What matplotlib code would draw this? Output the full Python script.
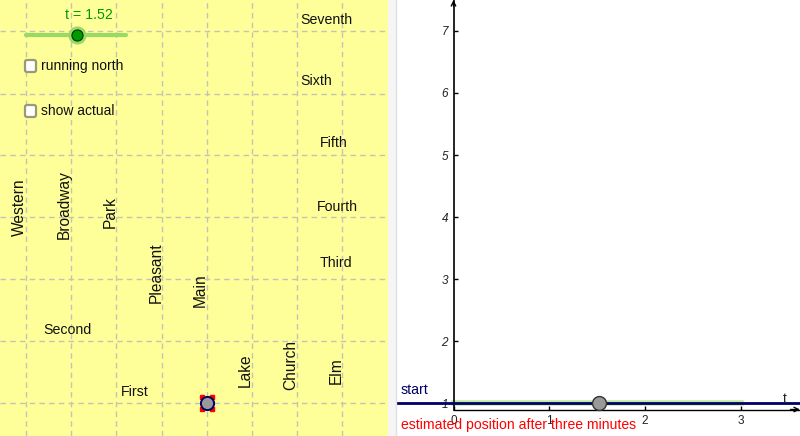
import matplotlib
matplotlib.use('Agg')
import matplotlib.pyplot as plt
from matplotlib.patches import Rectangle, FancyBboxPatch

plt.rcParams['font.family'] = ['Liberation Sans', 'DejaVu Sans']

# street grid of the map (map pane is measured in pixels)
grid_x = [26, 71, 116, 162, 207, 252, 297, 342]
grid_y = [31, 94, 155, 217, 279, 341, 403]

across_names = ['Seventh', 'Sixth', 'Fifth', 'Fourth', 'Third', 'Second', 'First']
across_x = [326, 316, 334, 337, 336, 67, 135]
across_y = [20, 81, 143, 207, 263, 330, 392]

up_names = ['Western', 'Broadway', 'Park', 'Pleasant', 'Main', 'Lake', 'Church', 'Elm']
up_x = [19, 64, 110, 156, 200, 245, 291, 336]
up_y = [207, 205, 212, 273, 290, 370, 365, 371]

# graph pane
t_value = 1.52
position = 1
slider_t = [0, 3]
xticks = [0, 1, 2, 3]
yticks = [1, 2, 3, 4, 5, 6, 7]

W, H = 800, 436
fig = plt.figure(figsize=(W / 100, H / 100), dpi=100, facecolor='#f5f5f5')

#%% map pane
ax = fig.add_axes([0, 0, 388 / W, 1])
ax.set_xlim(0, 388)
ax.set_ylim(436, 0)
ax.axis('off')
ax.add_patch(Rectangle((0, 0), 388, 436, color='#ffff99', zorder=0))

for x in grid_x:
    ax.axvline(x, color='#c4c4b4', lw=1, dashes=(4, 3), zorder=1)
for y in grid_y:
    ax.axhline(y, color='#c4c4b4', lw=1, dashes=(4, 3), zorder=1)

for name, x, y in zip(across_names, across_x, across_y):
    ax.text(x, y, name, fontsize=10.2, color='#111111', ha='center', va='center')
for name, x, y in zip(up_names, up_x, up_y):
    ax.text(x, y, name, fontsize=11.2, color='#111111', ha='center', va='center', rotation=90)

# slider
ax.plot([26, 126], [35, 35], color='#99d966', lw=3, solid_capstyle='round', zorder=2)
ax.plot([77], [35], 'o', ms=12, color='#99d966', zorder=3)
ax.plot([77], [35], 'o', ms=8, color='#009900', mec='#003300', mew=0.8, zorder=4)
ax.text(89, 15, f't = {t_value}', fontsize=10.2, color='#009900', ha='center', va='center')

# checkboxes
for y, label in zip([66, 111], ['running north', 'show actual']):
    ax.add_patch(FancyBboxPatch((25, y - 6), 11, 12, boxstyle='round,pad=0,rounding_size=2',
                                fc='white', ec='#999977', lw=1.6, zorder=3))
    ax.text(41, y, label, fontsize=10, color='#111111', ha='left', va='center')

# runner
for dx in [-5, 5]:
    for dy in [-6, 6]:
        ax.plot([207 + dx], [403 + dy], 's', ms=3.2, color='#ff0000', zorder=3)
ax.plot([207], [403], 'o', ms=9.5, color='#999999', mec='#000066', mew=1.4, zorder=4)

#%% graph pane
bx = fig.add_axes([396 / W, 0, (W - 396) / W, 1])
bx.set_facecolor('white')
x_min, x_max = (396 - 453.5) / 95.8, (800 - 453.5) / 95.8
y_min, y_max = 1 - 33 / 62, 1 + 403 / 62
axis_y = 1 - 6.5 / 62
bx.set_xlim(x_min, x_max)
bx.set_ylim(y_min, y_max)
for side in ['top', 'right']:
    bx.spines[side].set_visible(False)
bx.spines['left'].set_position(('data', 0))
bx.spines['bottom'].set_position(('data', axis_y))
bx.spines['left'].set_bounds(axis_y, y_max)
bx.spines['bottom'].set_bounds(0, x_max)
bx.spines['left'].set_linewidth(1.2)
bx.spines['bottom'].set_linewidth(1)

bx.set_xticks(xticks)
bx.set_yticks(yticks)
bx.tick_params(axis='both', direction='in', length=3, width=1, labelsize=8.5, labelcolor='#222222', pad=4)
bx.set_xticklabels([str(v) for v in xticks])
bx.set_yticklabels([str(v) for v in yticks], fontstyle='italic')

# axis arrow heads
bx.annotate('', xy=(0, y_max), xytext=(0, y_max - 0.1),
            arrowprops=dict(arrowstyle='->', lw=1, color='black', shrinkA=0, shrinkB=0, mutation_scale=8))
bx.annotate('', xy=(x_max, axis_y), xytext=(x_max - 0.1, axis_y),
            arrowprops=dict(arrowstyle='->', lw=1, color='black', shrinkA=0, shrinkB=0, mutation_scale=8))

bx.plot(slider_t, [position, position], color='#99d966', lw=4, alpha=0.6, zorder=2)
bx.axhline(position, color='#000066', lw=2, zorder=3)
bx.plot([t_value], [position], 'o', ms=10, color='#999999', mec='#333333', mew=1, zorder=5, clip_on=False)

bx.text(3.46, 1.065, 't', fontsize=10, color='#222222', ha='center', va='center')
fig.text(401 / W, 1 - 390 / H, 'start', fontsize=10.2, color='#000066', ha='left', va='center')
fig.text(401 / W, 1 - 425 / H, 'estimated position after three minutes', fontsize=10.1,
         color='#ff0000', ha='left', va='center')

fig.add_artist(plt.Line2D([395.5 / W, 395.5 / W], [0, 1], color='#e0e0e0', lw=1))

fig.savefig('out.png', dpi=100, facecolor=fig.get_facecolor())
